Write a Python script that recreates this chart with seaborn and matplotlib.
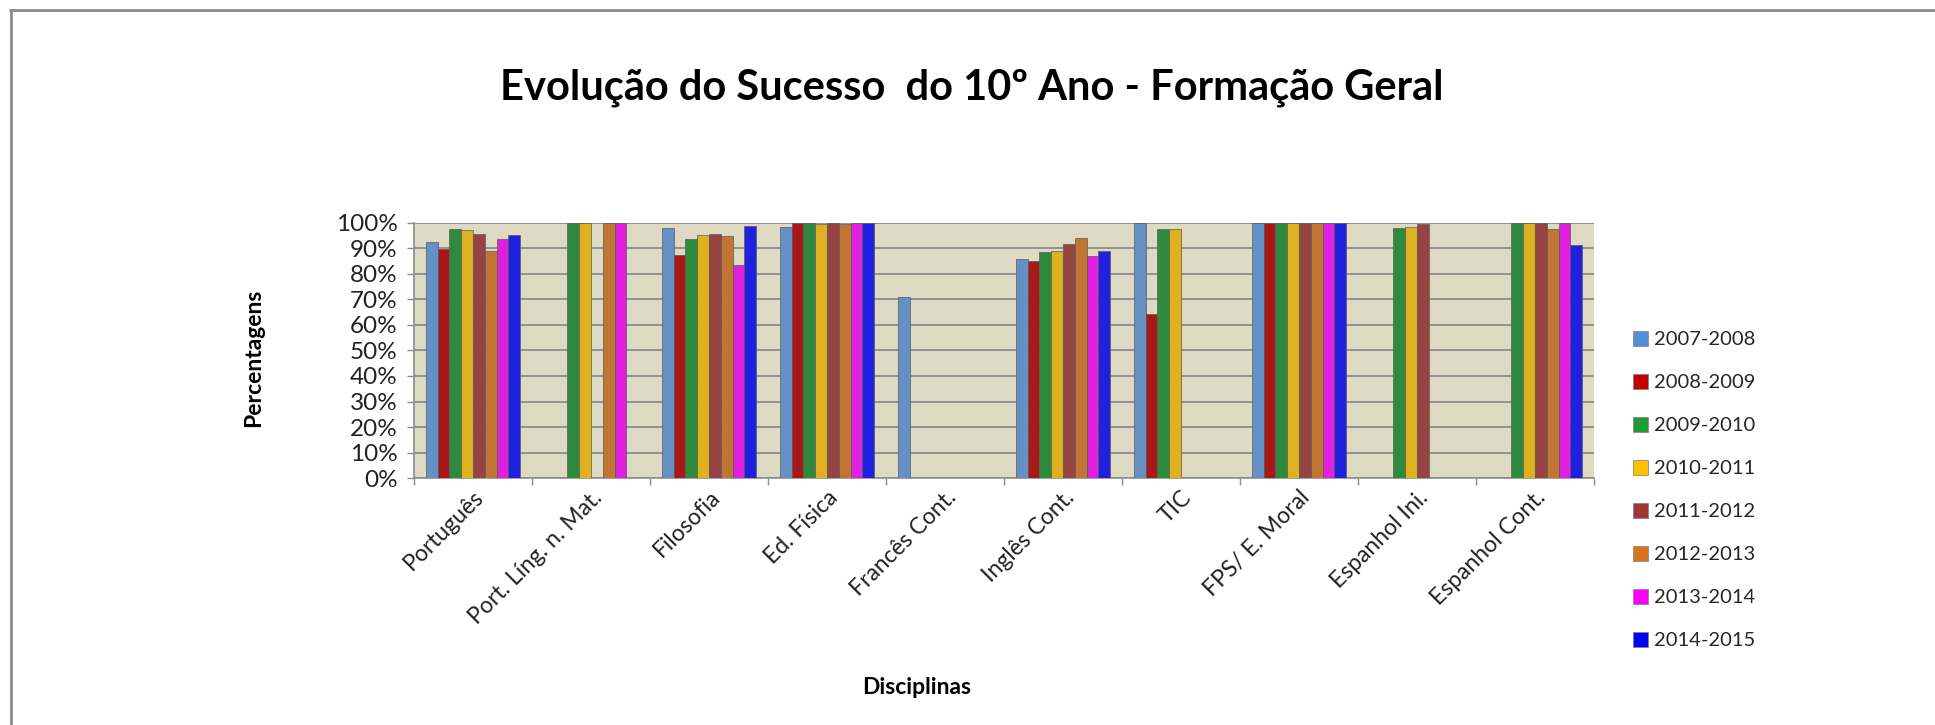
import numpy as np
import pandas as pd
import matplotlib.pyplot as plt
from matplotlib.ticker import PercentFormatter, FixedLocator
import seaborn as sns

# dados (percentagem de sucesso, NaN = sem dados)
disciplinas = ['Português', 'Port. Líng. n. Mat.', 'Filosofia', 'Ed. Física', 'Francês Cont.',
               'Inglês Cont.', 'TIC', 'FPS/ E. Moral', 'Espanhol Ini.', 'Espanhol Cont.']
anos = ['2007-2008', '2008-2009', '2009-2010', '2010-2011',
        '2011-2012', '2012-2013', '2013-2014', '2014-2015']
nan = np.nan
v_2007_2008 = [0.924, nan, 0.978, 0.984, 0.71, 0.859, 1.00, 1.00, nan, nan]
v_2008_2009 = [0.895, nan, 0.874, 1.00, nan, 0.850, 0.642, 1.00, nan, nan]
v_2009_2010 = [0.975, 1.00, 0.935, 1.00, nan, 0.886, 0.973, 1.00, 0.977, 1.00]
v_2010_2011 = [0.970, 1.00, 0.950, 0.995, nan, 0.887, 0.973, 1.00, 0.982, 1.00]
v_2011_2012 = [0.957, nan, 0.956, 1.00, nan, 0.917, nan, 1.00, 0.996, 1.00]
v_2012_2013 = [0.887, 1.00, 0.947, 0.994, nan, 0.940, nan, 1.00, nan, 0.973]
v_2013_2014 = [0.934, 1.00, 0.833, 1.00, nan, 0.868, nan, 1.00, nan, 1.00]
v_2014_2015 = [0.952, nan, 0.988, 1.00, nan, 0.887, nan, 1.00, nan, 0.913]
series = [v_2007_2008, v_2008_2009, v_2009_2010, v_2010_2011,
          v_2011_2012, v_2012_2013, v_2013_2014, v_2014_2015]

cores = ['#558ED5', '#C00000', '#1F9A32', '#FFC000',
         '#A23636', '#D9731A', '#FF00FF', '#0000FF']

rows = []
for ano, vals in zip(anos, series):
    for d, v in zip(disciplinas, vals):
        rows.append({'Disciplina': d, 'Ano': ano, 'Valor': v})
df = pd.DataFrame(rows).dropna()

sns.set_theme(style='white')
plt.rcParams['font.family'] = ['Lato', 'DejaVu Sans']

fig = plt.figure(figsize=(19.35, 7.25), dpi=100)
ax = fig.add_axes([0.2140, 0.3403, 0.6098, 0.3528])
ax.set_facecolor('#DDD9C3')

sns.barplot(data=df, x='Disciplina', y='Valor', hue='Ano',
            order=disciplinas, hue_order=anos, palette=cores,
            width=0.8, errorbar=None, dodge=True,
            edgecolor='#5a5a5a', linewidth=0.5, ax=ax, zorder=3)

ax.set_xlim(-0.5, len(disciplinas) - 0.5)
ax.set_ylim(0, 1.0)
ax.set_yticks(np.arange(0, 1.01, 0.1))
ax.yaxis.set_major_formatter(PercentFormatter(1.0, decimals=0))
ax.grid(axis='y', color='#8c8c8c', linewidth=1.3, zorder=0)
ax.set_axisbelow(True)

ax.set_xticks(range(len(disciplinas)))
ax.set_xticklabels(disciplinas, rotation=45, ha='right', rotation_mode='anchor')
ax.xaxis.set_minor_locator(FixedLocator(np.arange(-0.5, len(disciplinas), 1.0)))
ax.tick_params(axis='x', which='major', length=0, pad=6, labelsize=16.5, colors='#222222')
ax.tick_params(axis='x', which='minor', bottom=True, length=5, width=1, color='#8c8c8c')
ax.tick_params(axis='y', which='major', left=True, length=5, width=1, color='#8c8c8c',
               labelsize=17.5, labelcolor='#222222', pad=7)

for s in ['left', 'bottom']:
    ax.spines[s].set_color('#8c8c8c')
    ax.spines[s].set_linewidth(1.2)
for s in ['top', 'right']:
    ax.spines[s].set_visible(False)

ax.set_xlabel('')
ax.set_ylabel('')
ax.get_legend().remove()

handles = [plt.Rectangle((0, 0), 1, 1, facecolor=c, edgecolor='#7f7f7f', linewidth=0.5) for c in cores]
fig.legend(handles, anos, loc='center left', bbox_to_anchor=(0.8440, 0.324),
           frameon=False, fontsize=14.5, handlelength=0.75, handleheight=0.75,
           handletextpad=0.3, labelspacing=1.27, borderpad=0, borderaxespad=0)

fig.text(0.502, 0.879, 'Evolução do Sucesso  do 10º Ano - Formação Geral',
         ha='center', va='center', fontsize=30, fontweight='bold', color='black')
fig.text(0.131, 0.507, 'Percentagens', rotation=90, ha='center', va='center',
         fontsize=16.5, fontweight='bold', color='black')
fig.text(0.4737, 0.052, 'Disciplinas', ha='center', va='center',
         fontsize=16.5, fontweight='bold', color='black')

# moldura da área do gráfico
fig.add_artist(plt.Line2D([0.0054, 1.0], [0.9862, 0.9862], color='#8c8c8c', linewidth=2))
fig.add_artist(plt.Line2D([0.0057, 0.0057], [0.0, 0.9862], color='#8c8c8c', linewidth=2))

fig.savefig('out.png', dpi=100)
